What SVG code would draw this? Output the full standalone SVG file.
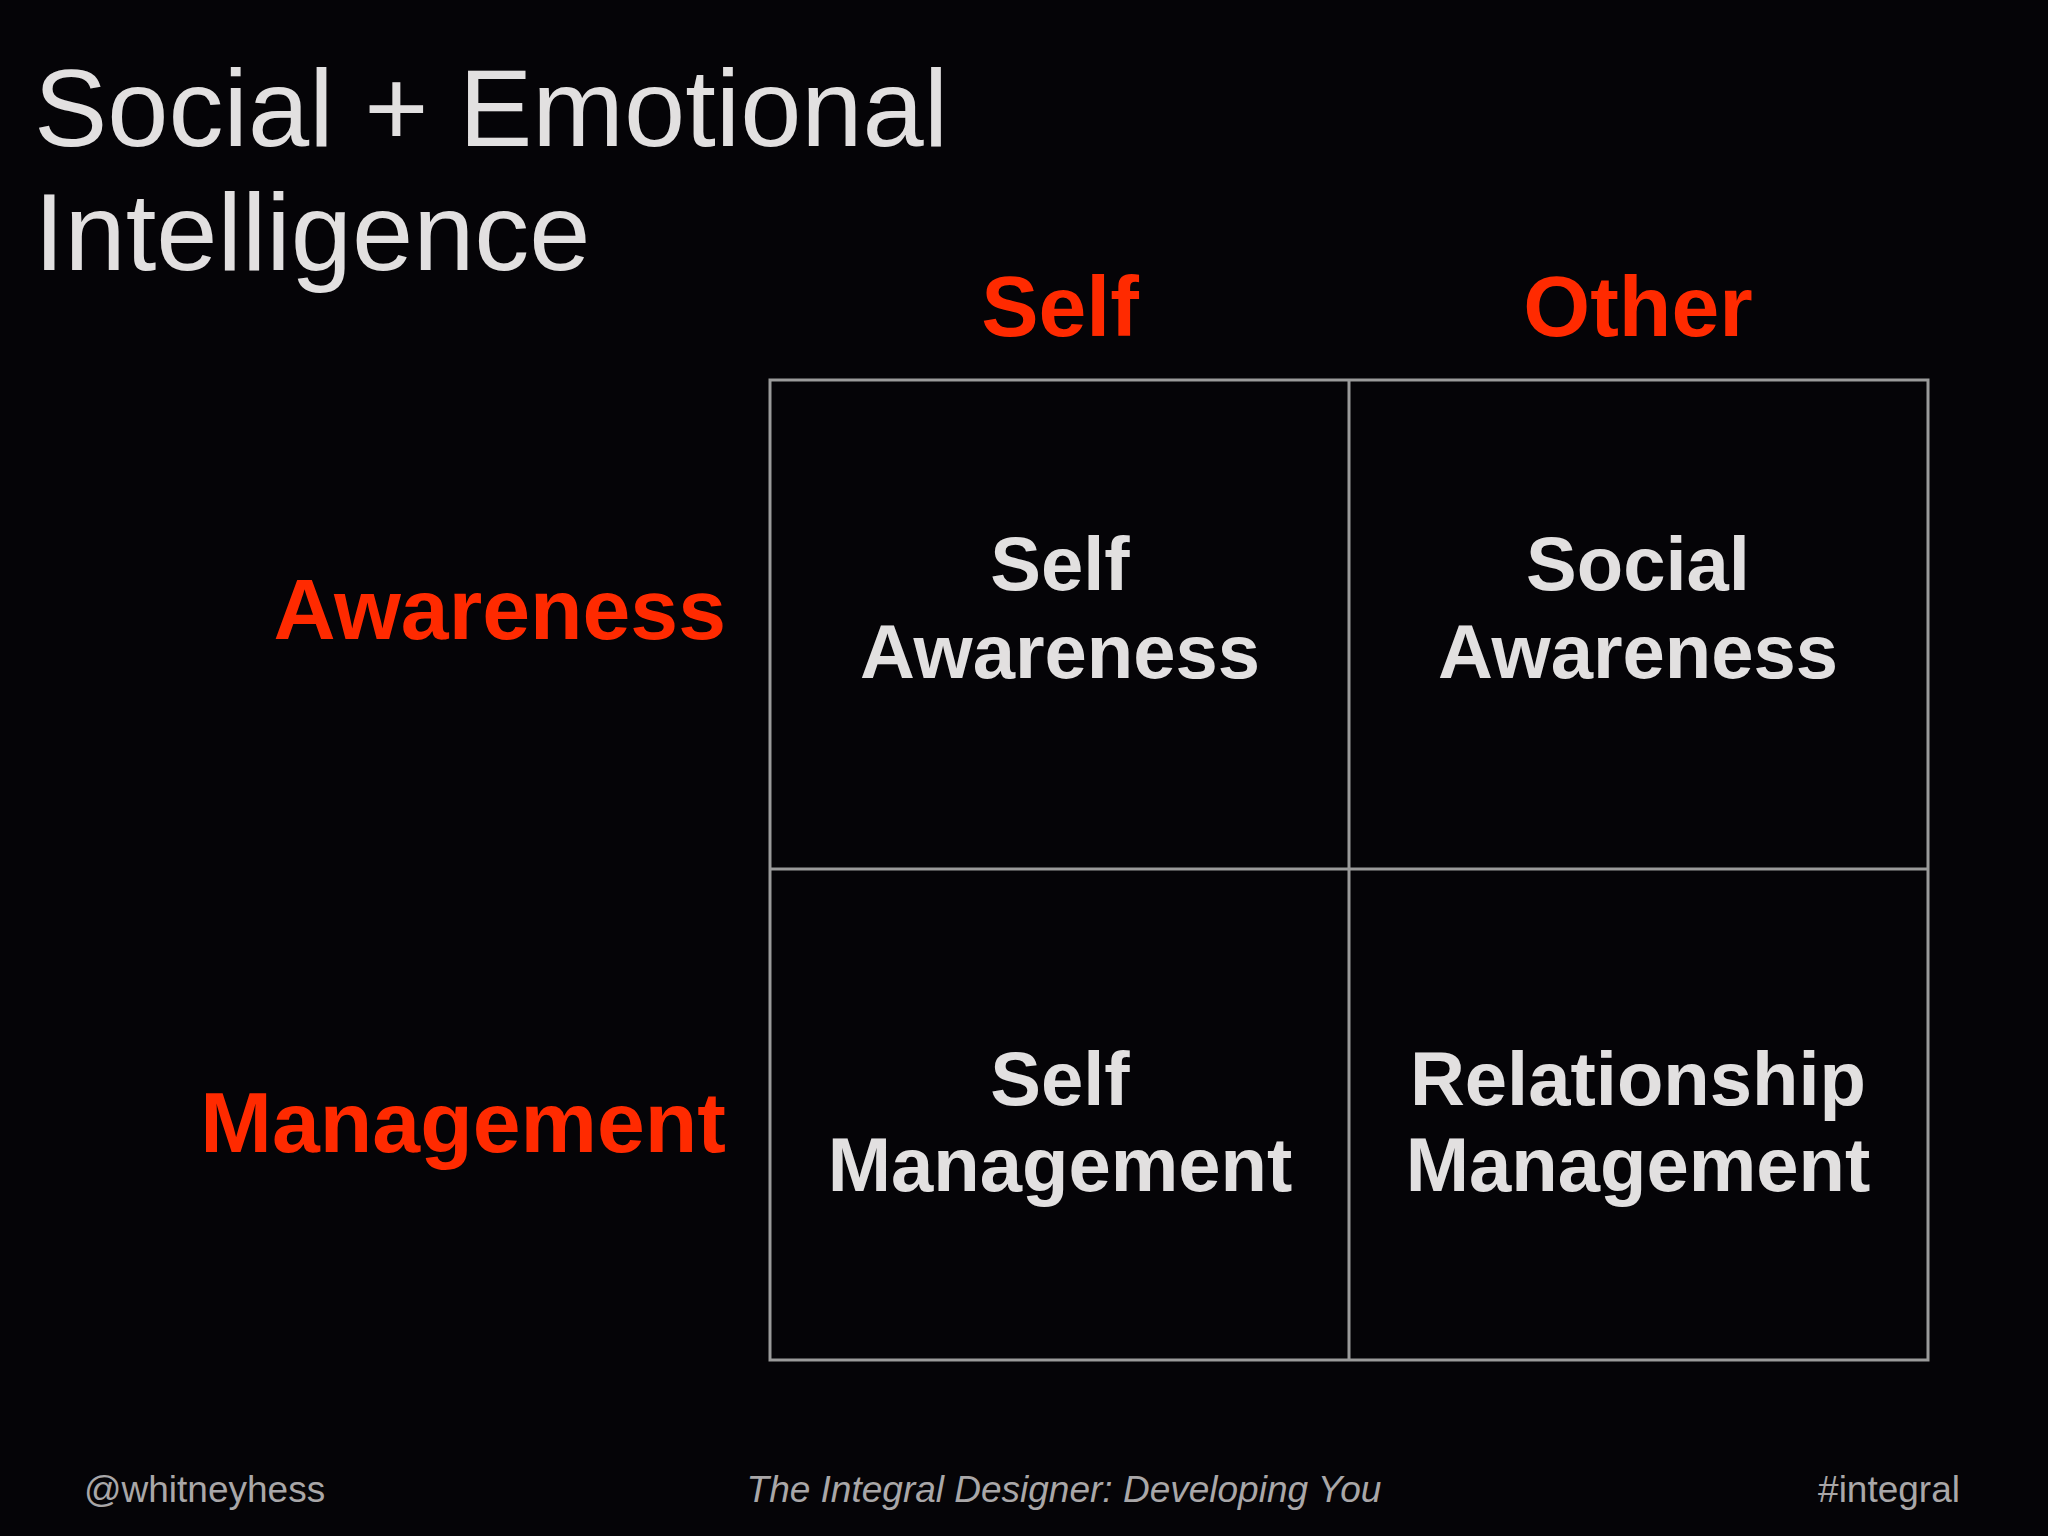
<svg xmlns="http://www.w3.org/2000/svg" width="2048" height="1536" viewBox="0 0 2048 1536">
<style>
text{font-family:"Liberation Sans","DejaVu Sans",sans-serif}
.t{fill:#e2e0e0;font-size:110px}
.h{fill:#ff2a00;font-size:86px;font-weight:bold}
.c{fill:#e2e0e0;font-size:76px;font-weight:bold;text-anchor:middle}
.f{fill:#a9a7a8;font-size:37px}
.g{fill:none;stroke:#9a9a9a;stroke-width:3}
</style>
<rect width="2048" height="1536" fill="#050407"/>
<g id="title"><text class="t" x="34" y="146">Social + Emotional</text><text class="t" x="34" y="270">Intelligence</text></g>
<g id="col-self"><text class="h" x="1060" y="336" text-anchor="middle">Self</text></g>
<g id="col-other"><text class="h" x="1638" y="336" text-anchor="middle">Other</text></g>
<g id="row-awareness"><text class="h" x="726" y="639" text-anchor="end">Awareness</text></g>
<g id="row-management"><text class="h" x="726" y="1152" text-anchor="end">Management</text></g>
<g id="grid">
<rect class="g" x="770" y="380" width="1158" height="980"/>
<line class="g" x1="1349" y1="380" x2="1349" y2="1360"/>
<line class="g" x1="770" y1="869" x2="1928" y2="869"/>
</g>
<g id="self-awareness"><text class="c" x="1060" y="590">Self</text><text class="c" x="1060" y="678">Awareness</text></g>
<g id="social-awareness"><text class="c" x="1638" y="590">Social</text><text class="c" x="1638" y="678">Awareness</text></g>
<g id="self-management"><text class="c" x="1060" y="1105">Self</text><text class="c" x="1060" y="1191">Management</text></g>
<g id="relationship-management"><text class="c" x="1638" y="1105">Relationship</text><text class="c" x="1638" y="1191">Management</text></g>
<g id="footer">
<text class="f" x="84" y="1502">@whitneyhess</text>
<text class="f" x="1064" y="1502" text-anchor="middle" font-style="italic">The Integral Designer: Developing You</text>
<text class="f" x="1960" y="1502" text-anchor="end">#integral</text>
</g>
</svg>
